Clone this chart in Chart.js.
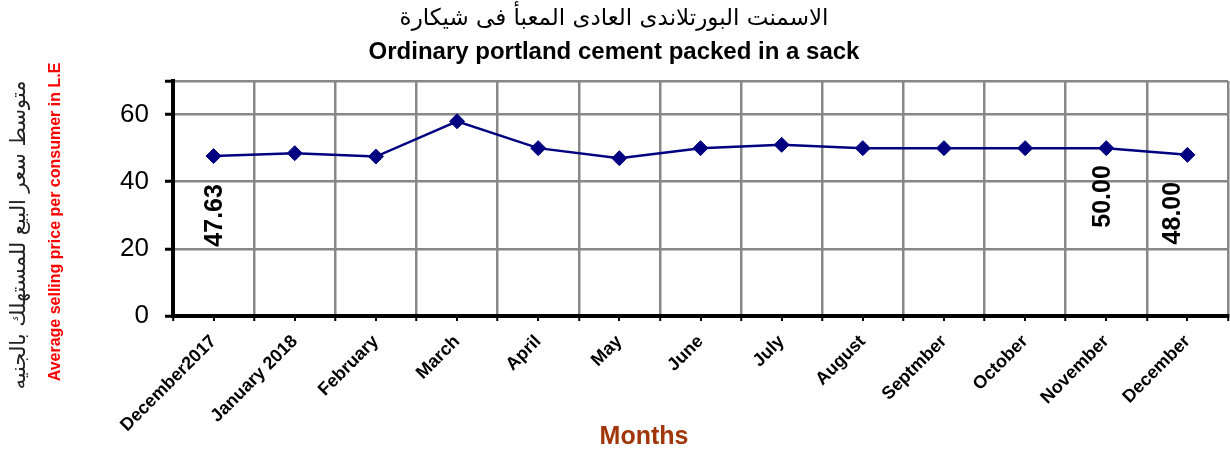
<!DOCTYPE html>
<html>
<head>
<meta charset="utf-8">
<script src="https://cdn.jsdelivr.net/npm/chart.js@4.4.1/dist/chart.umd.min.js"></script>
<style>
  html, body { margin: 0; padding: 0; background: #fff; }
  #wrap { width: 1230px; height: 451px; position: relative; }
</style>
</head>
<body>
<div id="wrap"><canvas id="c"></canvas></div>
<script>
const categories = ["December2017", "January 2018", "February", "March", "April", "May", "June", "July", "August", "Septmber", "October", "November", "December"];
const prices = [47.63, 48.5, 47.5, 58, 50, 47, 50, 51, 50, 50, 50, 50, 48];
const labelledIndices = [0, 11, 12];
const yTicks = [0, 20, 40, 60];
const titleAr = "الاسمنت البورتلاندى العادى المعبأ فى شيكارة";
const titleEn = "Ordinary portland cement packed in a sack";
const yTitleAr = "متوسط سعر البيع للمستهلك بالجنيه";
const yTitleEn = "Average selling price per consumer in L.E";
const xTitle = "Months";

const extraText = {
  id: 'extraText',
  afterDatasetsDraw(chart, args, opts) {
    const ctx = chart.ctx;
    const meta = chart.getDatasetMeta(0);
    ctx.save();
    ctx.font = 'bold 25px "Liberation Sans", Arial, sans-serif';
    ctx.fillStyle = '#000';
    ctx.textAlign = 'right';
    ctx.textBaseline = 'middle';
    labelledIndices.forEach((i, k) => {
      const pt = meta.data[i];
      const off = opts.labelOffsets[k];
      ctx.save();
      ctx.translate(pt.x + off[0], pt.y + off[1]);
      ctx.rotate(-Math.PI / 2);
      ctx.fillText(prices[i].toFixed(2), 0, 0);
      ctx.restore();
    });
    ctx.restore();
  },
  afterDraw(chart) {
    const ctx = chart.ctx;
    const xs = chart.scales.x;
    const bottom = chart.chartArea.bottom;
    ctx.save();
    // minor tick marks at category centres
    ctx.strokeStyle = '#000';
    ctx.lineWidth = 2;
    categories.forEach((c, i) => {
      const px = Math.round(xs.getPixelForValue(i));
      ctx.beginPath();
      ctx.moveTo(px, bottom);
      ctx.lineTo(px, bottom + 5);
      ctx.stroke();
    });
    ctx.save();
    ctx.translate(20, 235);
    ctx.rotate(-Math.PI / 2);
    ctx.textAlign = 'center';
    ctx.textBaseline = 'middle';
    ctx.fillStyle = '#222';
    ctx.font = '21px "DejaVu Sans", sans-serif';
    ctx.fillText(yTitleAr, 0, 0);
    ctx.restore();
    ctx.save();
    ctx.translate(56, 222);
    ctx.rotate(-Math.PI / 2);
    ctx.textAlign = 'center';
    ctx.textBaseline = 'middle';
    ctx.fillStyle = '#ff0000';
    ctx.font = 'bold 16px "Liberation Sans", Arial, sans-serif';
    ctx.fillText(yTitleEn, 0, 0);
    ctx.restore();
    ctx.textAlign = 'center';
    ctx.textBaseline = 'middle';
    ctx.fillStyle = '#a0360a';
    ctx.font = 'bold 25px "Liberation Sans", Arial, sans-serif';
    ctx.fillText(xTitle, 644, 437);
    ctx.restore();
  }
};

new Chart(document.getElementById('c'), {
  type: 'line',
  data: {
    labels: categories,
    datasets: [{
      data: prices,
      borderColor: '#000080',
      backgroundColor: '#000080',
      borderWidth: 2.5,
      pointStyle: 'rectRot',
      pointRadius: 7.5,
      pointBorderWidth: 1,
      pointBackgroundColor: '#000080',
      pointBorderColor: '#000080',
      tension: 0,
      fill: false
    }]
  },
  options: {
    responsive: true,
    maintainAspectRatio: false,
    animation: false,
    layout: { autoPadding: false, padding: { left: 0, right: 2, top: 0, bottom: 0 } },
    plugins: {
      legend: { display: false },
      tooltip: { enabled: false },
      title: {
        display: true,
        text: titleAr,
        color: '#000',
        font: { family: '"DejaVu Sans", sans-serif', size: 23, weight: 'normal', lineHeight: 1.2 },
        padding: { top: 5, bottom: 2 }
      },
      subtitle: {
        display: true,
        text: titleEn,
        color: '#000',
        font: { family: '"Liberation Sans", Arial, sans-serif', size: 24, weight: 'bold', lineHeight: 1.2 },
        padding: { top: 3, bottom: 14.6 }
      },
      extraText: {
        labelOffsets: [[2, 28], [-3, 17], [-14, 27]]
      }
    },
    scales: {
      x: {
        offset: true,
        grid: {
          offset: true,
          color: '#888888',
          lineWidth: 2.5,
          drawTicks: true,
          tickLength: 5,
          tickColor: '#000',
          tickWidth: 2
        },
        border: { display: true, color: '#000', width: 4 },
        ticks: {
          autoSkip: false,
          maxRotation: 45,
          minRotation: 45,
          color: '#000',
          padding: 10,
          font: { family: '"Liberation Sans", Arial, sans-serif', size: 18, weight: 'bold' }
        },
        afterFit(scale) { scale.height = 135; scale.paddingRight = 0; scale.paddingLeft = 0; }
      },
      y: {
        min: 0,
        max: 70,
        afterBuildTicks(scale) {
          scale.ticks = yTicks.concat([70]).map(v => ({ value: v }));
        },
        grid: {
          color: '#888888',
          lineWidth: 2.5,
          drawTicks: true,
          tickLength: 8,
          tickColor: '#000',
          tickWidth: 3
        },
        border: { display: true, color: '#000', width: 4 },
        ticks: {
          color: '#000',
          padding: 16,
          font: { family: '"Liberation Sans", Arial, sans-serif', size: 26, weight: 'normal' },
          callback(v) { return yTicks.includes(v) ? String(v) : ''; }
        },
        afterFit(scale) { scale.width = 173; scale.paddingTop = 0; scale.paddingBottom = 0; }
      }
    }
  },
  plugins: [extraText]
});
</script>
</body>
</html>
